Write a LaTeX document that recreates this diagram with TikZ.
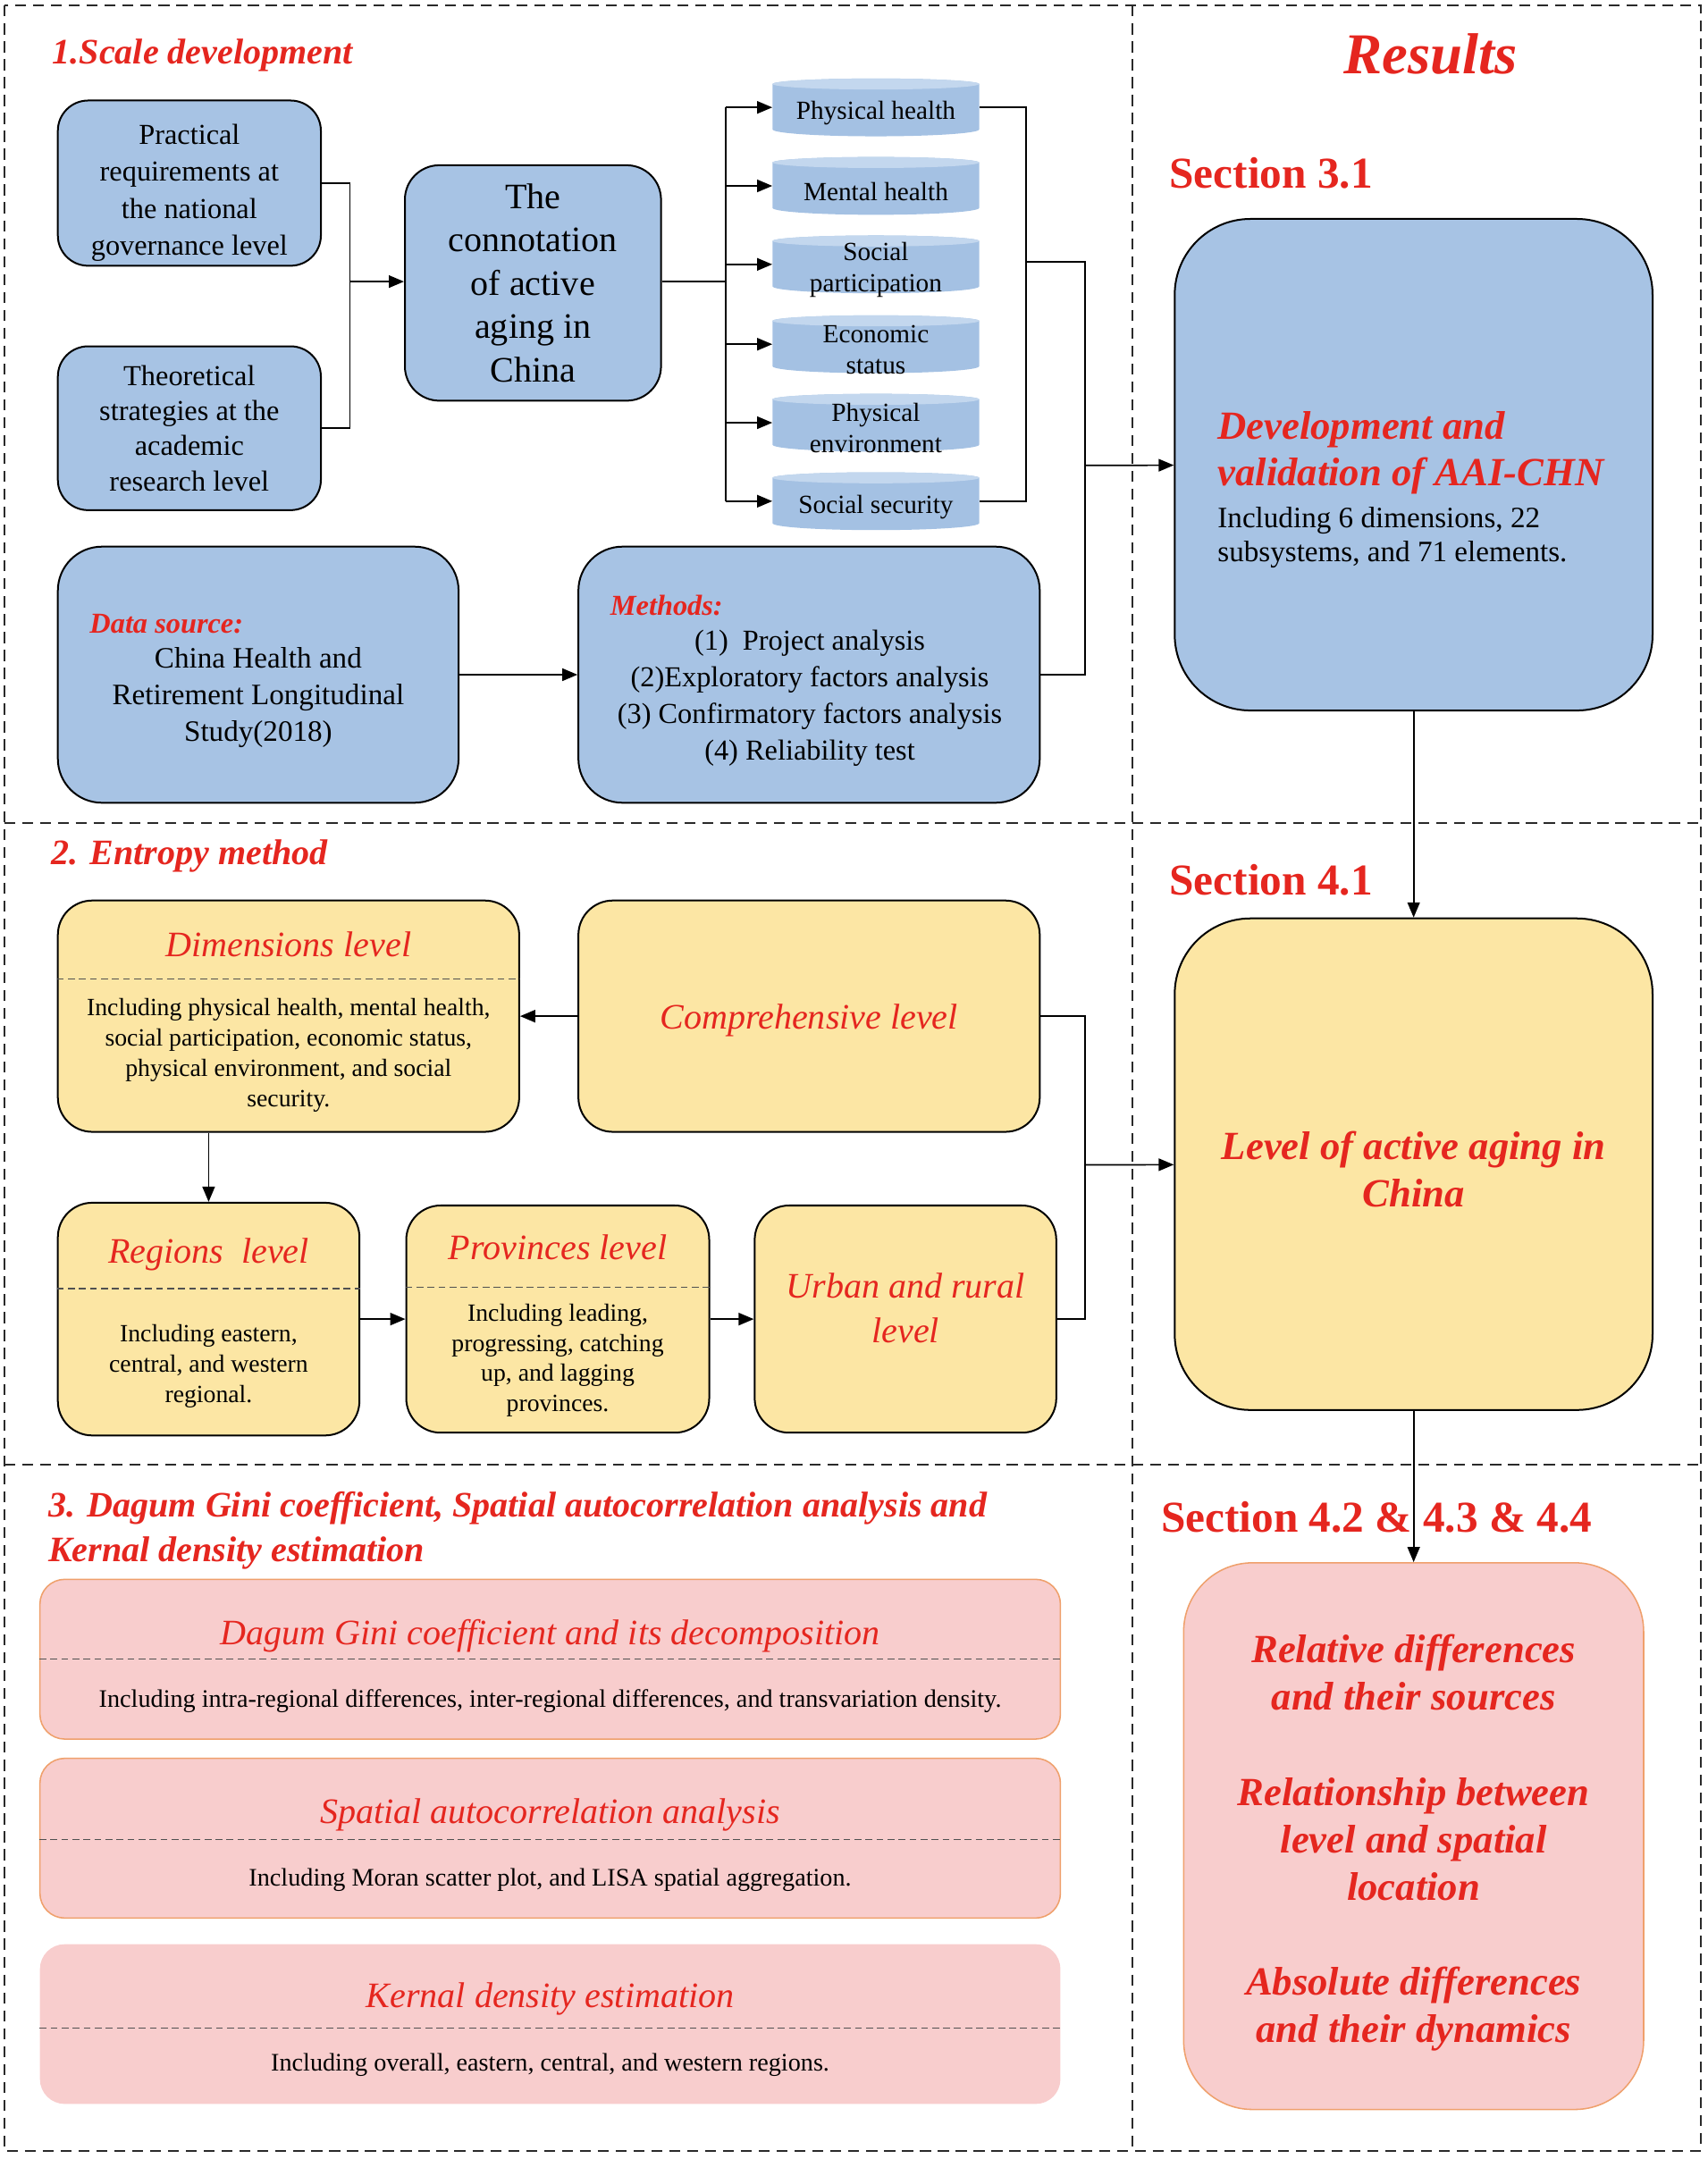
\documentclass[tikz,border=0pt]{standalone}
\usepackage{fontspec}
\setmainfont{Liberation Serif}
\usetikzlibrary{arrows.meta}
\definecolor{boxblue}{HTML}{A7C3E4}
\definecolor{cylblue}{HTML}{A4C1E3}
\definecolor{cyltop}{HTML}{C3D7EE}
\definecolor{boxyellow}{HTML}{FCE6A4}
\definecolor{boxpink}{HTML}{F8CDCD}
\definecolor{pinkline}{HTML}{EFA06C}
\definecolor{redtxt}{HTML}{E5261F}
\definecolor{framegray}{HTML}{2A2A2A}
\definecolor{sepgray}{HTML}{505050}
\newcommand{\fs}[2]{\fontsize{#1}{#2}\selectfont}

\begin{document}
\begin{tikzpicture}[x=1pt, y=-1pt, %
      bl/.style={draw=black, line width=1.3pt, fill=boxblue, align=center, inner sep=0pt}, %
      yl/.style={draw=black, line width=1.3pt, fill=boxyellow, align=center, inner sep=0pt, rounded corners=25pt}, %
      pk/.style={fill=boxpink, inner sep=0pt, rounded corners=18pt, minimum width=741pt, minimum height=116pt}, %
      hd/.style={text=redtxt, font=\fs{26}{31}\itshape}, %
      tt/.style={text=redtxt, font=\fs{26}{32}\bfseries\itshape, anchor=west, align=left, inner sep=0pt}, %
      sec/.style={text=redtxt, font=\fs{32}{38}\bfseries, anchor=west, inner sep=0pt}, %
      rtt/.style={text=redtxt, font=\fs{29}{34.5}\bfseries\itshape, align=center}, %
      lab/.style={anchor=west, text=redtxt, font=\fs{21}{26}\bfseries\itshape, inner sep=0pt}, %
      body/.style={font=\fs{18}{22}, align=center}, %
      ln/.style={line width=1.1pt}, %
      arr/.style={line width=1.1pt, -{Triangle[length=11pt, width=9pt]}}, %
      divline/.style={draw=framegray, line width=1.3pt, dash pattern=on 8pt off 5pt}, %
      dashsep/.style={draw=sepgray, line width=1pt, dash pattern=on 5pt off 3pt}, %
      ]
    \useasboundingbox (0,0) rectangle (1240,1568);

    % frame of the three parts
    \draw[divline] (3,4) rectangle (1235,1562);
    \draw[divline] (822,4) -- (822,1562);
    \draw[divline] (3,598) -- (1235,598);
    \draw[divline] (3,1064) -- (1235,1064);

    % titles
    \node[tt] (t1) at (38,40) {1.Scale development};
    \node[tt] (t2) at (37,622) {2. Entropy method};
    \node[tt] (t3) at (35,1111.5) {3. Dagum Gini coefficient, Spatial autocorrelation analysis and\\ Kernal density estimation};
    \node[text=redtxt, font=\fs{42}{48}\bfseries\itshape] (res) at (1039,39) {Results};
    \node[sec] (s31) at (849,126) {Section 3.1};
    \node[sec] (s41) at (849,639) {Section 4.1};
    \node[sec] (s42) at (843,1102) {Section 4.2 \& 4.3 \& 4.4};

    % 1. scale development
    \node[bl, rounded corners=22pt, minimum width=191pt, minimum height=120pt] (prac) at (137.5,133) {};
    \node[align=center, font=\fs{21}{27}] (practx) at (137.5,140) {Practical\\ requirements at\\ the national\\ governance level};
    \node[bl, rounded corners=22pt, minimum width=191pt, minimum height=119pt, font=\fs{21}{25.5}] (theo) at (137.5,311) {Theoretical\\ strategies at the\\ academic\\ research level};
    \node[bl, rounded corners=25pt, minimum width=186pt, minimum height=171pt, font=\fs{26}{31.5}] (conn) at (387,205.5) {The\\ connotation\\ of active\\ aging in\\ China};
    \node[bl, rounded corners=32pt, minimum width=291pt, minimum height=186pt] (data) at (187.5,490) {};
    \node[bl, rounded corners=32pt, minimum width=335pt, minimum height=186pt] (meth) at (587.5,490) {};
    \node[lab] (dslab) at (65,453) {Data source:};
    \node[align=center, font=\fs{21.5}{26.5}] (dstx) at (187.5,506.5) {China Health and\\ Retirement Longitudinal\\ Study(2018)};
    \node[lab] (mlab) at (443,440) {Methods:};
    \node[align=center, font=\fs{21}{26.5}] (mtx) at (588,507) {(1)\enspace Project analysis\\ (2)Exploratory factors analysis\\ (3) Confirmatory factors analysis\\ (4) Reliability test};

    \foreach \a/\y/\txt in { %
      phys/78/{Physical health}, %
      ment/135/{Mental health}, %
      soci/192/{Social\\ participation}, %
      econ/250/{Economic\\ status}, %
      envi/307/{Physical\\ environment}, %
      secu/364/{Social security}%
    }{ %
      \fill[cylblue] (561,{\y-17}) -- (561,{\y+16}) arc[start angle=180, end angle=0, x radius=75, y radius=5] -- (711,{\y-17}) arc[start angle=0, end angle=-180, x radius=75, y radius=4] -- cycle;
      \fill[cyltop] (636,{\y-17}) ellipse[x radius=75, y radius=4];
      \node[minimum width=150pt, minimum height=42pt, inner sep=0pt, align=center, font=\fs{19}{23}] (\a) at (636,{\y+4}) {\txt};
    }

    \node[bl, rounded corners=55pt, minimum width=347pt, minimum height=357pt] (dev) at (1026.5,337.5) {};
    \node[anchor=west, align=left, inner sep=0pt, text=redtxt, font=\fs{29}{34}\bfseries\itshape] (devtt) at (884,329) {Development and\\ validation of AAI-CHN};
    \node[anchor=west, align=left, inner sep=0pt, font=\fs{21.5}{25}] (devtx) at (884,390.5) {Including 6 dimensions, 22\\ subsystems, and 71 elements.};

    \coordinate (jl) at (254,204.5);
    \draw[ln] (prac) -| (jl) |- (theo);
    \draw[arr] (jl) -- (jl -| conn.west);
    \coordinate (jc) at (527,204.5);
    \draw[ln] (jc -| conn.east) -- (jc);
    \draw[ln] (jc |- 0,78) -- (jc |- 0,364);
    \foreach \a/\y in {phys/78,ment/135,soci/192,econ/250,envi/307,secu/364}{ \draw[arr] (jc |- 0,\y) -- (\a.west |- 0,\y); }
    \coordinate (jr) at (745,190);
    \draw[ln] (phys.east |- 0,78) -| (jr) |- (secu.east |- 0,364);
    \coordinate (jm) at (788,338);
    \draw[ln] (jr) -| (jm) |- (meth);
    \draw[arr] (jm) -- (dev);
    \draw[arr] (data) -- (meth);

    % 2. entropy method
    \node[yl, minimum width=335pt, minimum height=168pt] (dim) at (209.5,738) {};
    \node[yl, minimum width=335pt, minimum height=168pt] (comp) at (587.5,738) {};
    \node[hd] (comptx) at (587.5,741) {Comprehensive level};
    \node[yl, minimum width=219pt, minimum height=169pt] (reg) at (151.5,958) {};
    \node[yl, minimum width=220pt, minimum height=165pt] (prov) at (405,958) {};
    \node[yl, minimum width=219pt, minimum height=165pt] (urb) at (657.5,958) {};
    \node[hd, align=center, font=\fs{26}{32}\itshape] (urbtx) at (657.5,950) {Urban and rural\\ level};
    \node[bl, fill=boxyellow, rounded corners=55pt, minimum width=347pt, minimum height=357pt] (lvl) at (1026.5,845.5) {};
    \node[rtt] (lvltx) at (1026.5,849) {Level of active aging in\\ China};

    \foreach \a/\hy/\sy/\by/\hdtxt/\txt in { %
      dim/686/711/766.5/{Dimensions level}/{Including physical health, mental health,\\ social participation, economic status,\\ physical environment, and social\\ security.}, %
      reg/911/936/992/{Regions\ \ level}/{Including eastern,\\ central, and western\\ regional.}, %
      prov/906/935/988/{Provinces level}/{Including leading,\\ progressing, catching\\ up, and lagging\\ provinces.}%
    }{ %
      \node[hd] (\a hd) at (\a |- 0,\hy) {\hdtxt};
      \draw[dashsep] (\a.west |- 0,\sy) -- (\a.east |- 0,\sy);
      \node[body] (\a tx) at (\a |- 0,\by) {\txt};
    }

    \coordinate (je) at (788,846);
    \draw[ln] (comp) -| (je) |- (urb);
    \draw[arr] (je) -- (lvl);
    \draw[arr] (comp) -- (dim);
    \draw[arr] (reg |- dim.south) -- (reg);
    \draw[arr] (reg) -- (prov);
    \draw[arr] (prov) -- (urb);
    \draw[arr] (dev) -- (lvl);

    % 3. gini, spatial, kernel
    \node[pk, draw=pinkline, line width=1pt] (gini) at (399.5,1205) {};
    \node[pk, draw=pinkline, line width=1pt] (spat) at (399.5,1335) {};
    \node[pk] (kern) at (399.5,1470) {};
    \foreach \a/\hy/\sy/\by/\hdtxt/\txt in { %
      gini/1188/1205/1235.5/{Dagum Gini coefficient and its decomposition}/{Including intra-regional differences, inter-regional differences, and transvariation density.}, %
      spat/1318/1336/1365.5/{Spatial autocorrelation analysis}/{Including Moran scatter plot, and LISA spatial aggregation.}, %
      kern/1452/1473/1499.5/{Kernal density estimation}/{Including overall, eastern, central, and western regions.}%
    }{ %
      \node[hd] (\a hd) at (\a |- 0,\hy) {\hdtxt};
      \draw[dashsep] (\a.west |- 0,\sy) -- (\a.east |- 0,\sy);
      \node[body, font=\fs{18.3}{22}] (\a tx) at (\a |- 0,\by) {\txt};
    }

    \node[fill=boxpink, draw=pinkline, line width=1pt, rounded corners=50pt, inner sep=0pt, minimum width=334pt, minimum height=397pt] (rsum) at (1026.5,1333.5) {};
    \node[rtt] (rsumtx) at (1026.5,1338.5) {Relative differences\\ and their sources\\[34.5pt] Relationship between\\ level and spatial\\ location\\[34.5pt] Absolute differences\\ and their dynamics};
    \draw[arr] (lvl) -- (rsum);
\end{tikzpicture}
\end{document}
